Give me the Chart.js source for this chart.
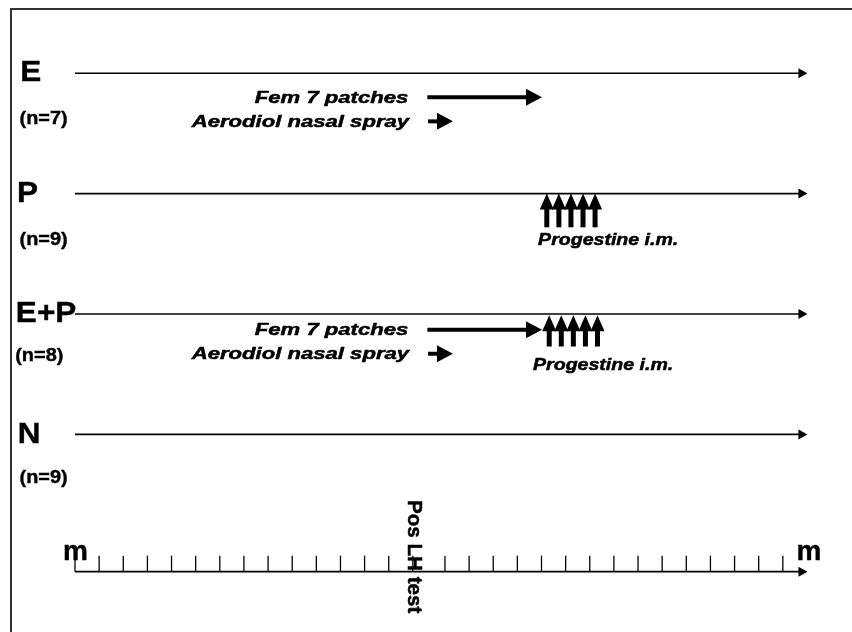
<!DOCTYPE html>
<html>
<head>
<meta charset="utf-8">
<script src="https://cdn.jsdelivr.net/npm/chart.js@4/dist/chart.umd.min.js"></script>
<style>
  html, body { margin: 0; padding: 0; background: #fff; }
  canvas { display: block; }
</style>
</head>
<body>
<canvas id="c" width="852" height="632"></canvas>
<script>
// ── data (x = days on the time axis, y = row units, 1 row per group) ──
const groupLabels = ['E', 'P', 'E+P', 'N'];
const groupSizes  = ['(n=7)', '(n=9)', '(n=8)', '(n=9)'];
const groupRows   = [1, 2, 3, 4];
const groupLabelDay = [-2.27, -2.4, -2.45, -2.37];
const groupSizeDay  = [-2.3, -2.3, -2.48, -2.3];
const groupSizeRows = [1.38, 2.385, 3.35, 4.36];

const timeStart = 0;
const timeEnd   = 30.35;
const axisRow   = 5.14;
const tickDays  = [0, 1, 2, 3, 4, 5, 6, 7, 8, 9, 10, 11, 12, 13, 14,
                   15.33, 16.33, 17.33, 18.33, 19.33, 20.33, 21.33, 22.33,
                   23.33, 24.33, 25.33, 26.33, 27.33, 28.33, 29.33];
const lhDay     = 14;
const lhLabel   = 'Pos LH test';
const axisLabel = 'm';

const treatLabels = ['Fem 7 patches', 'Aerodiol nasal spray', 'Fem 7 patches', 'Aerodiol nasal spray'];
const treatRows   = [1.2, 1.4, 3.13, 3.33];
const treatFrom   = [14.6, 14.63, 14.6, 14.63];
const treatTo     = [19.35, 15.66, 19.35, 15.66];

const injLabel    = 'Progestine i.m.';
const injDaysP    = [19.55, 20.05, 20.55, 21.05, 21.55];
const injDaysEP   = [19.65, 20.15, 20.65, 21.15, 21.65];
const injTop      = [2.0, 3.01];
const injBottom   = [2.28, 3.27];
const injLabelDay = [19.19, 18.98];
const injLabelRow = [2.385, 3.43];

// ── helpers ──
const FONT = '"Liberation Sans", Arial, sans-serif';

function headRight(c, x, y, len, half) {
    c.beginPath();
    c.moveTo(x, y);
    c.lineTo(x - len, y - half);
    c.lineTo(x - len, y + half);
    c.closePath();
    c.fill();
}

function headUp(c, x, y, len, half) {
    c.beginPath();
    c.moveTo(x, y);
    c.lineTo(x - half, y + len);
    c.lineTo(x + half, y + len);
    c.closePath();
    c.fill();
}

// texto con estiramiento horizontal opcional y trazo para engrosarlo
function text(c, str, x, y, font, align, sx, heavy) {
    c.save();
    c.translate(x, y);
    c.scale(sx || 1, 1);
    c.font = font;
    c.textAlign = align || 'left';
    c.textBaseline = 'middle';
    c.fillText(str, 0, 0);
    if (heavy) { c.lineWidth = heavy; c.strokeText(str, 0, 0); }
    c.restore();
}

// ── plugin que dibuja el esquema ──
const scheme = {
    id: 'scheme',
    afterDatasetsDraw(chart) {
        const c = chart.ctx;
        const xs = chart.scales.x, ys = chart.scales.y;
        const X = v => xs.getPixelForValue(v);
        const Y = v => ys.getPixelForValue(v);
        c.save();

        // marco (solo arriba e izquierda)
        c.strokeStyle = '#333';
        c.lineWidth = 2;
        c.beginPath();
        c.moveTo(852, 9); c.lineTo(11, 9); c.lineTo(11, 632);
        c.stroke();

        c.fillStyle = '#000';
        c.strokeStyle = '#000';

        // líneas de cada grupo + eje
        [...groupRows, axisRow].forEach(r => {
            c.lineWidth = 1.6;
            c.beginPath();
            c.moveTo(X(timeStart), Y(r));
            c.lineTo(X(timeEnd) - 6, Y(r));
            c.stroke();
            headRight(c, X(timeEnd), Y(r), 9, 5);
        });

        // etiquetas de grupo
        groupLabels.forEach((g, i) => {
            text(c, g, X(groupLabelDay[i]), Y(groupRows[i]), 'bold 30px ' + FONT, 'left', 1.05, 0.4);
            text(c, groupSizes[i], X(groupSizeDay[i]), Y(groupSizeRows[i]), 'bold 19px ' + FONT, 'left', 1.05, 0.4);
        });

        // marcas del eje
        c.lineWidth = 1.3;
        tickDays.forEach(d => {
            c.beginPath();
            c.moveTo(X(d), Y(axisRow));
            c.lineTo(X(d), Y(axisRow) - 16);
            c.stroke();
        });
        text(c, axisLabel, X(timeStart) - 12, Y(axisRow) - 19, 'bold 28px ' + FONT, 'left', 1, 0.4);
        text(c, axisLabel, X(timeEnd) - 11, Y(axisRow) - 19, 'bold 28px ' + FONT, 'left', 1, 0.4);

        // Pos LH test (vertical)
        c.save();
        c.translate(X(lhDay) + 1, Y(axisRow) - 15);
        c.rotate(Math.PI / 2);
        text(c, lhLabel, 0, 0, 'bold 20px ' + FONT, 'center', 1.03, 0.5);
        c.restore();

        // tratamientos
        treatLabels.forEach((t, i) => {
            const y = Y(treatRows[i]);
            c.lineWidth = 4;
            c.beginPath();
            c.moveTo(X(treatFrom[i]), y);
            c.lineTo(X(treatTo[i]) - 10, y);
            c.stroke();
            headRight(c, X(treatTo[i]), y, 16, 8.5);
            text(c, t, X(treatFrom[i]) - 19, y + 1, 'italic bold 17px ' + FONT, 'right', 1.3, 0.5);
        });

        // inyecciones de progestina
        [injDaysP, injDaysEP].forEach((days, k) => {
            const top = Y(injTop[k]), bot = Y(injBottom[k]);
            days.forEach(d => {
                const x = X(d);
                c.fillRect(x - 2.5, top + 10, 5, bot - top - 10);
                headUp(c, x, top, 16, 7);
            });
            text(c, injLabel, X(injLabelDay[k]), Y(injLabelRow[k]), 'italic bold 17px ' + FONT, 'left', 1.15, 0.5);
        });

        c.restore();
    }
};

new Chart(document.getElementById('c'), {
    type: 'scatter',
    data: { datasets: [] },
    options: {
        responsive: false,
        animation: false,
        devicePixelRatio: 1,
        layout: { padding: { left: 75, right: 53, top: 13, bottom: 17 } },
        scales: {
            x: { type: 'linear', min: 0, max: 30, display: false },
            y: { type: 'linear', min: 0.5, max: 5.5, reverse: true, display: false }
        },
        plugins: { legend: { display: false }, tooltip: { enabled: false } }
    },
    plugins: [scheme]
});
</script>
</body>
</html>
